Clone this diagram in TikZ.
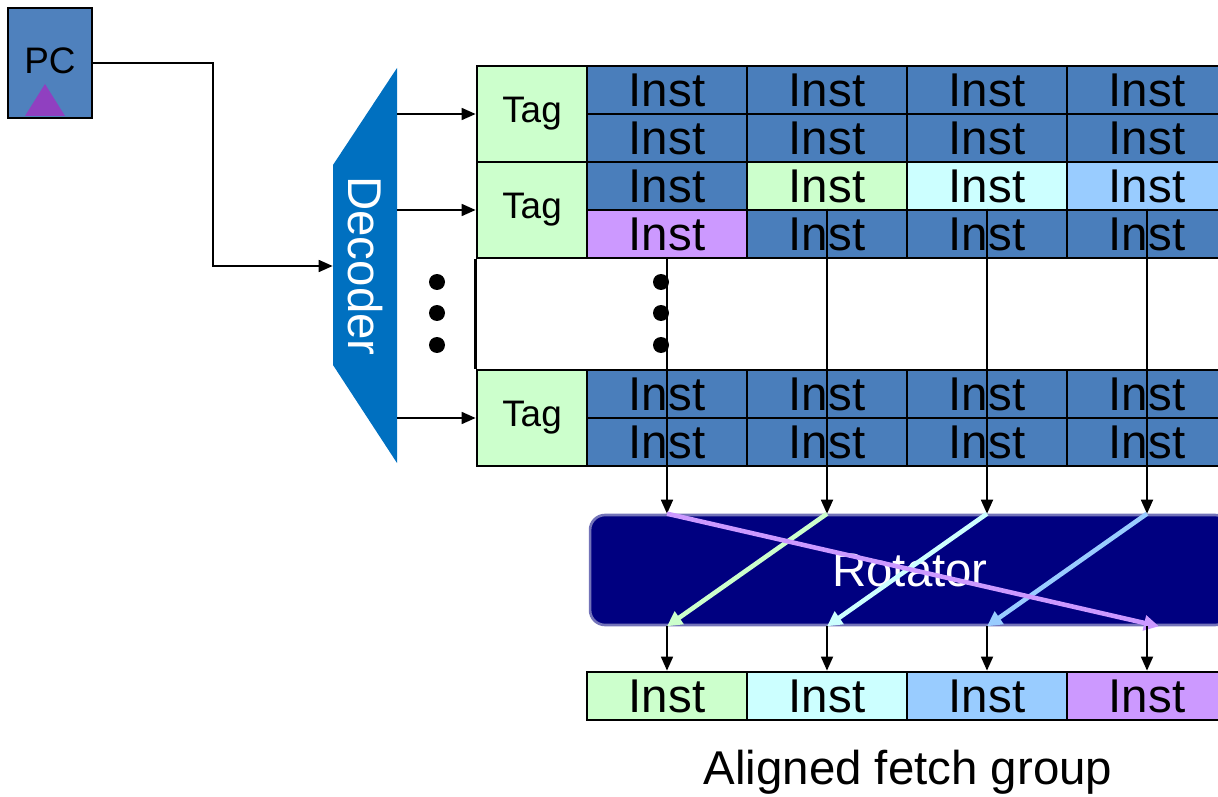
\documentclass[tikz,border=0pt]{standalone}
\usepackage{fontspec}
\setmainfont{Liberation Sans}
\usetikzlibrary{arrows.meta}

\definecolor{instblue}{HTML}{4A7EBB}
\definecolor{taggreen}{HTML}{CCFFCC}
\definecolor{instcyan}{HTML}{CCFFFF}
\definecolor{instsky}{HTML}{99CCFF}
\definecolor{instpurple}{HTML}{CC99FF}
\definecolor{decblue}{HTML}{0070C0}
\definecolor{rotnavy}{HTML}{000080}
\definecolor{pcblue}{HTML}{4F81BD}
\definecolor{pcpurple}{HTML}{9040C0}

\begin{document}
\begin{tikzpicture}[x=0.02cm, y=-0.02cm,
    inst/.style={draw=black, line width=1.6pt, fill=instblue, minimum width=3.2cm,
      minimum height=0.96cm, inner sep=0pt, font=\fontsize{27}{27}\selectfont},
    tag/.style={inst, fill=taggreen, minimum width=2.2cm, minimum height=1.92cm,
      font=\fontsize{21}{21}\selectfont},
    wire/.style={line width=1pt, -{Triangle[length=0.28cm,width=0.24cm]}},
    rotline/.style={line width=2.6pt, -{Triangle[length=0.3cm,width=0.3cm]}}]

    \useasboundingbox (0,0) rectangle (1218,797);
    \clip (0,0) rectangle (1218,797);

    % PC
    \node[draw=black, line width=1.5pt, fill=pcblue, minimum width=1.68cm, minimum height=2.2cm,
      inner sep=0pt, font=\fontsize{21}{21}\selectfont] (pc) at (50,63) {\raisebox{3pt}{PC}};
    \fill[pcpurple] (25,116) -- (65,116) -- (45,84) -- cycle;

    % decoder
    \fill[decblue] (333,165) -- (397,68) -- (397,463) -- (333,365) -- cycle;
    \node[minimum width=1.28cm, minimum height=7.9cm, inner sep=0pt, text=white,
      font=\fontsize{27}{27}\selectfont] (dec) at (365,266) {\rotatebox{-90}{Decoder}};

    \draw[wire] (pc.east) -- ++(120,0) |- (dec.west);

    % tags
    \node[tag] (tag1) at (532,114) {Tag};
    \node[tag] (tag2) at (532,210) {Tag};
    \node[tag] (tag3) at (532,418) {Tag};

    \draw[wire] (dec.east |- tag1) -- (tag1.west);
    \draw[wire] (dec.east |- tag2) -- (tag2.west);
    \draw[wire] (dec.east |- tag3) -- (tag3.west);

    % line 1
    \node[inst] (c11) at (667,90) {Inst};
    \node[inst] (c12) at (827,90) {Inst};
    \node[inst] (c13) at (987,90) {Inst};
    \node[inst] (c14) at (1147,90) {Inst};
    \node[inst] (c21) at (667,138) {Inst};
    \node[inst] (c22) at (827,138) {Inst};
    \node[inst] (c23) at (987,138) {Inst};
    \node[inst] (c24) at (1147,138) {Inst};
    % line 2
    \node[inst] (c31) at (667,186) {Inst};
    \node[inst, fill=taggreen] (c32) at (827,186) {Inst};
    \node[inst, fill=instcyan] (c33) at (987,186) {Inst};
    \node[inst, fill=instsky] (c34) at (1147,186) {Inst};
    \node[inst, fill=instpurple] (c41) at (667,234) {Inst};
    \node[inst] (c42) at (827,234) {Inst};
    \node[inst] (c43) at (987,234) {Inst};
    \node[inst] (c44) at (1147,234) {Inst};
    % last line
    \node[inst] (c51) at (667,394) {Inst};
    \node[inst] (c52) at (827,394) {Inst};
    \node[inst] (c53) at (987,394) {Inst};
    \node[inst] (c54) at (1147,394) {Inst};
    \node[inst] (c61) at (667,442) {Inst};
    \node[inst] (c62) at (827,442) {Inst};
    \node[inst] (c63) at (987,442) {Inst};
    \node[inst] (c64) at (1147,442) {Inst};

    \draw[line width=1.6pt] (tag2.south west) -- (tag3.north west);

    % dots
    \fill (437,282) circle [radius=0.16cm];
    \fill (437,313) circle [radius=0.16cm];
    \fill (437,345) circle [radius=0.16cm];
    \fill (661,282) circle [radius=0.16cm];
    \fill (661,313) circle [radius=0.16cm];
    \fill (661,345) circle [radius=0.16cm];

    % rotator
    \node[draw=rotnavy!55!white, line width=1.5pt, fill=rotnavy, rounded corners=0.3cm,
      minimum width=12.8cm, minimum height=2.2cm, text=white,
      font=\fontsize{27}{27}\selectfont] (rot) at (910,570) {\raisebox{-2pt}{Rotator}};

    % aligned group
    \node[inst, fill=taggreen] (out1) at (667,696) {Inst};
    \node[inst, fill=instcyan] (out2) at (827,696) {Inst};
    \node[inst, fill=instsky] (out3) at (987,696) {Inst};
    \node[inst, fill=instpurple] (out4) at (1147,696) {Inst};

    \draw[wire] (c41.south) -- (c41.south |- rot.north);
    \draw[wire] (c42.north) -- (c42.north |- rot.north);
    \draw[wire] (c43.north) -- (c43.north |- rot.north);
    \draw[wire] (c44.north) -- (c44.north |- rot.north);

    \draw[rotline, draw=taggreen] (c42 |- rot.north) -- (out1 |- rot.south);
    \draw[rotline, draw=instcyan] (c43 |- rot.north) -- (out2 |- rot.south);
    \draw[rotline, draw=instsky] (c44 |- rot.north) -- (out3 |- rot.south);
    \draw[rotline, draw=instpurple] (c41 |- rot.north) -- ([xshift=0.24cm]out4.center |- rot.south);

    \draw[wire] (out1 |- rot.south) -- (out1.north);
    \draw[wire] (out2 |- rot.south) -- (out2.north);
    \draw[wire] (out3 |- rot.south) -- (out3.north);
    \draw[wire] (out4 |- rot.south) -- (out4.north);

    \node[font=\fontsize{27}{27}\selectfont] (caption) at (908,772) {Aligned fetch group};
\end{tikzpicture}
\end{document}
